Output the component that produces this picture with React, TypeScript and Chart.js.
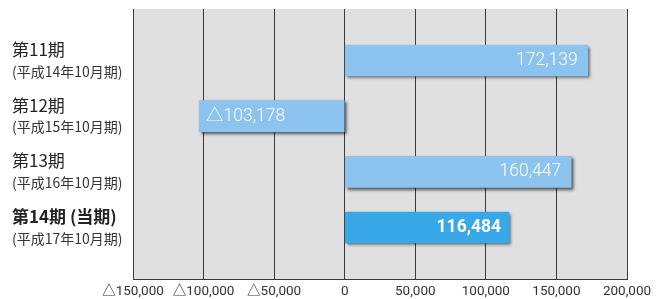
import React, { useEffect, useRef } from "react";
import { Chart, registerables } from "chart.js";

Chart.register(...registerables);

const periods = ["第11期", "第12期", "第13期", "第14期 (当期)"];
const subLabels = ["(平成14年10月期)", "(平成15年10月期)", "(平成16年10月期)", "(平成17年10月期)"];
const values = [172139, -103178, 160447, 116484];
const currentIndex = 3;
const xTicks = [-150000, -100000, -50000, 0, 50000, 100000, 150000, 200000];

const fmt = (v: number) => (v < 0 ? "△" : "") + Math.abs(v).toLocaleString("en-US");

const LIGHT = "#8dc3ef";
const DARK = "#38a8e8";
const NUM_FONT = "Roboto, 'Noto Sans CJK JP', sans-serif";
const JP_FONT = "'Noto Sans CJK JP', sans-serif";

const bgPlugin = {
  id: "bgPlugin",
  beforeDraw(chart: any) {
    const { ctx, chartArea } = chart;
    ctx.save();
    ctx.fillStyle = "#e0e0e0";
    ctx.fillRect(chartArea.left, chartArea.top, chartArea.right - chartArea.left, chartArea.bottom - chartArea.top);
    ctx.restore();
  },
  beforeDatasetsDraw(chart: any) {
    const ctx = chart.ctx;
    ctx.save();
    ctx.shadowColor = "rgba(0,0,0,0.65)";
    ctx.shadowOffsetX = 2;
    ctx.shadowOffsetY = 2;
    ctx.shadowBlur = 3;
  },
  afterDatasetsDraw(chart: any) {
    const ctx = chart.ctx;
    ctx.restore();
    const meta = chart.getDatasetMeta(0);
    const yScale = chart.scales.y;
    ctx.save();
    meta.data.forEach((bar: any, i: number) => {
      const v = values[i];
      const bold = i === currentIndex;
      ctx.font = `${bold ? "bold" : "300"} 17.5px ${NUM_FONT}`;
      ctx.fillStyle = "#ffffff";
      ctx.textBaseline = "middle";
      const y = bar.y;
      if (v >= 0) {
        ctx.textAlign = "right";
        ctx.fillText(fmt(v), bar.x - (bold ? 8 : 10), y);
      } else {
        ctx.textAlign = "left";
        ctx.fillText(fmt(v), bar.x + 7, y);
      }
    });
    periods.forEach((p, i) => {
      const cy = yScale.getPixelForValue(i);
      const bold = i === currentIndex;
      ctx.textAlign = "left";
      ctx.textBaseline = "middle";
      ctx.fillStyle = "#222222";
      ctx.font = `${bold ? "bold" : "normal"} 17px ${JP_FONT}`;
      ctx.fillText(p, 12, cy - 11);
      ctx.fillStyle = "#333333";
      ctx.font = `normal 14px ${JP_FONT}`;
      ctx.fillText(subLabels[i], 12, cy + 11);
    });
    ctx.restore();
  },
};

export default function App() {
  const ref = useRef<HTMLCanvasElement | null>(null);
  useEffect(() => {
    if (!ref.current) return;
    const chart = new Chart(ref.current, {
      type: "bar",
      data: {
        datasets: [
          {
            data: values.map((v, i) => ({ x: v, y: i })) as any,
            backgroundColor: values.map((_, i) => (i === currentIndex ? DARK : LIGHT)),
            borderWidth: 0,
            barThickness: 31,
          },
        ],
      },
      options: {
        indexAxis: "y",
        animation: false,
        responsive: false,
        maintainAspectRatio: false,
        layout: { padding: { left: 133, right: 33, top: 9, bottom: 0 } },
        plugins: { legend: { display: false }, tooltip: { enabled: false } },
        scales: {
          x: {
            type: "linear",
            min: -150000,
            max: 200000,
            afterBuildTicks: (scale: any) => {
              scale.ticks = xTicks.map((v) => ({ value: v }));
            },
            afterFit: (scale: any) => {
              scale.height = 20;
            },
            grid: { color: "#3a3a3a", lineWidth: 1, drawTicks: false },
            border: { display: true, color: "#3a3a3a" },
            ticks: {
              padding: 5,
              color: "#333333",
              font: { family: NUM_FONT, size: 13.5 },
              maxRotation: 0,
              autoSkip: false,
              callback: (v: any) => fmt(Number(v)),
            },
          },
          y: {
            type: "linear",
            reverse: true,
            offset: false,
            min: -0.925,
            max: 3.925,
            display: false,
          },
        },
      },
      plugins: [bgPlugin],
    });
    return () => chart.destroy();
  }, []);
  return (
    <div style={{ position: "fixed", left: 0, top: 0, width: 660, height: 299, background: "#fff" }}>
      <canvas ref={ref} width={660} height={299} style={{ width: 660, height: 299 }} />
    </div>
  );
}
